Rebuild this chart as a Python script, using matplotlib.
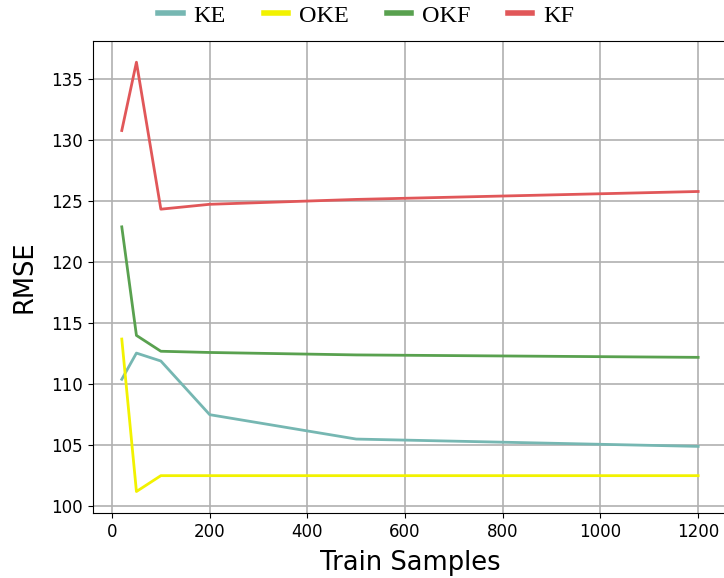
import matplotlib
matplotlib.use("Agg")
import matplotlib.pyplot as plt

train_samples = [20, 50, 100, 200, 500, 1200]
ke = [110.4, 112.55, 111.9, 107.5, 105.5, 104.9]
oke = [113.7, 101.2, 102.5, 102.5, 102.5, 102.5]
okf = [122.9, 114.0, 112.7, 112.6, 112.4, 112.2]
kf = [130.8, 136.4, 124.35, 124.75, 125.15, 125.8]

series = [("KE", ke, "#76b7b2"), ("OKE", oke, "#f2f200"),
          ("OKF", okf, "#59a14f"), ("KF", kf, "#e15759")]

fig = plt.figure(figsize=(7.24, 5.78), dpi=100)
ax = fig.add_axes([0.1284, 0.1125, 0.8757, 0.817])
for name, vals, col in series:
    ax.plot(train_samples, vals, color=col, lw=2, label=name)

ax.grid(True, color="#b0b0b0", lw=1.2)
ax.set_axisbelow(True)
ax.set_yticks([100, 105, 110, 115, 120, 125, 130, 135])
ax.set_xticks([0, 200, 400, 600, 800, 1000, 1200])
ax.tick_params(labelsize=12)
ax.set_xlabel("Train Samples", fontsize=18.5, labelpad=7)
ax.set_ylabel("RMSE", fontsize=18.5, labelpad=10)

handles, labels = ax.get_legend_handles_labels()
leg = fig.legend(handles, labels, loc="upper center", bbox_to_anchor=(0.506, 1.03),
                 ncol=4, frameon=False, prop={"family": "Liberation Serif", "size": 17.5},
                 handlelength=1.0, columnspacing=1.55, handletextpad=0.45)
for l in leg.get_lines():
    l.set_linewidth(4)

fig.savefig("out.png", dpi=100)
